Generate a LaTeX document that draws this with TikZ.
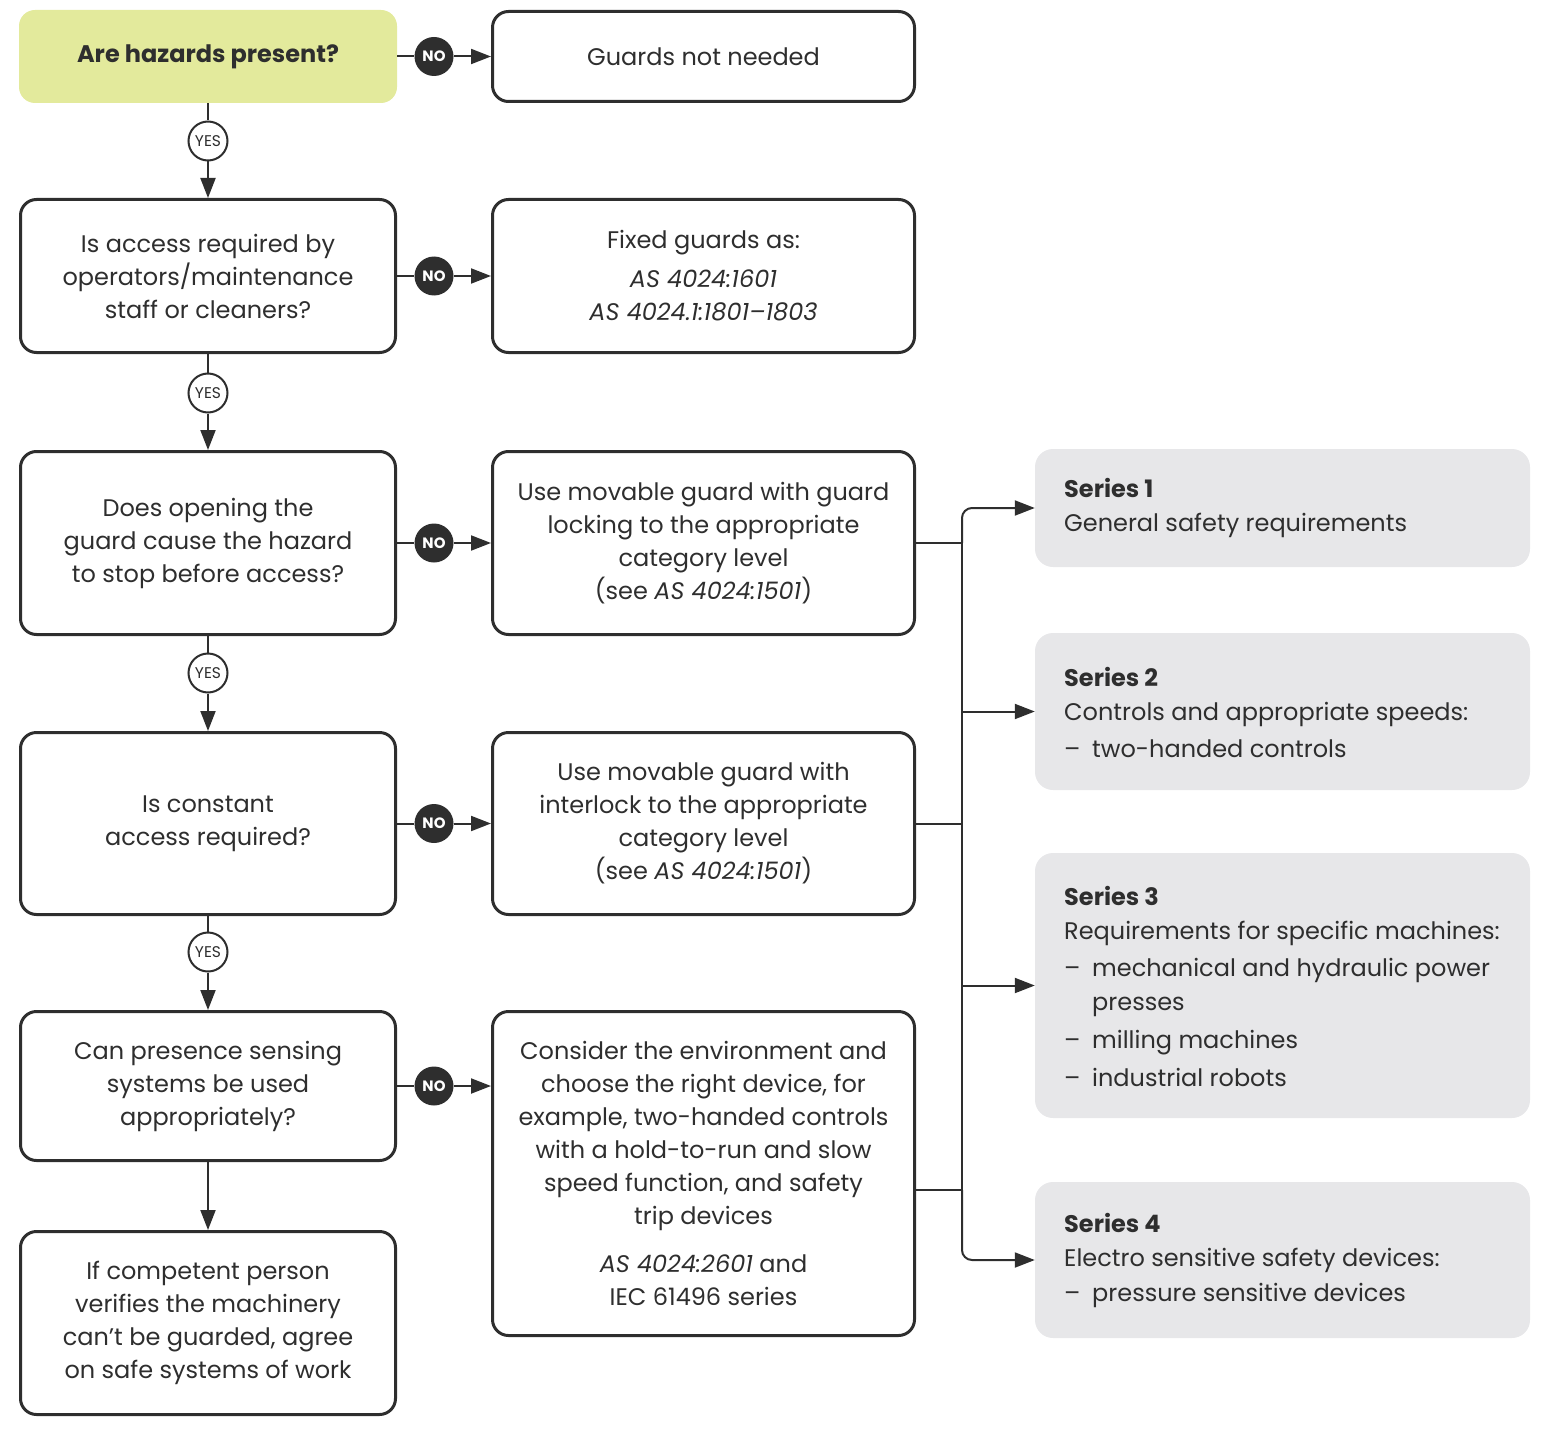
\documentclass[tikz,border=0pt]{standalone}
\usepackage{fontspec}
\setmainfont{Poppins}
\usetikzlibrary{arrows.meta,calc}
\definecolor{ink}{HTML}{2E2E2E}
\definecolor{lime}{HTML}{E3EA9C}
\definecolor{pale}{HTML}{E7E7E9}
\tikzset{
  qbox/.style={draw=ink, line width=3pt, rounded corners=16pt, minimum width=375pt, inner sep=0pt, text=ink, align=center, font=\fontsize{24}{33}\selectfont},
  mbox/.style={qbox, minimum width=422pt},
  greenbox/.style={fill=lime, rounded corners=16pt, minimum width=378pt, minimum height=93pt, inner sep=0pt, text=ink, font=\fontsize{24}{33}\selectfont},
  sbox/.style={fill=pale, rounded corners=18pt, minimum width=495pt, inner sep=0pt},
  stext/.style={align=left, inner sep=0pt, text=ink, anchor=west, font=\fontsize{24}{34}\selectfont},
  nocirc/.style={circle, fill=ink, minimum size=39pt, inner sep=0pt, text=white, font=\fontsize{15}{15}\selectfont\bfseries},
  yescirc/.style={circle, draw=ink, line width=2pt, fill=white, minimum size=39pt, inner sep=0pt, text=ink, font=\fontsize{15.5}{15.5}\selectfont},
  conn/.style={draw=ink, line width=2pt},
  arr/.style={conn, -{Triangle[length=20pt,width=15pt]}},
}
\newcommand{\itm}{\makebox[28pt][l]{–}}
\begin{document}
\begin{tikzpicture}[x=1pt,y=-1pt]
\useasboundingbox (0,0) rectangle (1549,1431);
% left column
\node[greenbox] (q1) at (208,56.5) {\bfseries Are hazards present?};
\node[qbox, minimum height=153pt] (q2) at (208,276) {Is access required by\\operators/maintenance\\staff or cleaners?};
\node[qbox, minimum height=183pt] (q3) at (208,543) {Does opening the\\guard cause the hazard\\to stop before access?};
\node[qbox, minimum height=182pt] (q4) at (208,823.5) {Is constant\\access required?};
\node[qbox, minimum height=149pt] (q5) at (208,1086) {Can presence sensing\\systems be used\\appropriately?};
\node[qbox, minimum height=183pt] (q6) at (208,1323) {If competent person\\verifies the machinery\\can’t be guarded, agree\\on safe systems of work};
% middle column
\node[mbox, minimum height=90pt] (m1) at (703.5,56.5) {Guards not needed};
\node[mbox, minimum height=153pt] (m2) at (703.5,276) {Fixed guards as:\\[6pt]\textit{AS 4024:1601}\\\textit{AS 4024.1:1801–1803}};
\node[mbox, minimum height=183pt] (m3) at (703.5,543) {Use movable guard with guard\\locking to the appropriate\\category level\\(see \textit{AS 4024:1501})};
\node[mbox, minimum height=182pt] (m4) at (703.5,823.5) {Use movable guard with\\interlock to the appropriate\\category level\\(see \textit{AS 4024:1501})};
\node[mbox, minimum height=324pt] (m5) at (703.5,1173.5) {Consider the environment and\\choose the right device, for\\example, two-handed controls\\with a hold-to-run and slow\\speed function, and safety\\trip devices\\[15pt]\textit{AS 4024:2601} and\\IEC 61496 series};
% right column
\node[sbox, minimum height=118pt] (s1) at (1282.5,508) {};
\node[sbox, minimum height=157pt] (s2) at (1282.5,711.5) {};
\node[sbox, minimum height=265pt] (s3) at (1282.5,985.5) {};
\node[sbox, minimum height=156pt] (s4) at (1282.5,1260) {};
\node[stext] (s1t) at (1064,508) {\textbf{Series 1}\\General safety requirements};
\node[stext] (s2t) at (1064,712) {\textbf{Series 2}\\Controls and appropriate speeds:\\[3pt]\itm two-handed controls};
\node[stext] (s3t) at (1064,986) {\textbf{Series 3}\\Requirements for specific machines:\\[3pt]\itm mechanical and hydraulic power\\\hspace*{28pt}presses\\[4pt]\itm milling machines\\[4pt]\itm industrial robots};
\node[stext] (s4t) at (1064,1260) {\textbf{Series 4}\\Electro sensitive safety devices:\\[1pt]\itm pressure sensitive devices};
% decision markers
\node[nocirc] (n1) at (434,56.5) {NO};
\node[nocirc] (n2) at (434,276) {NO};
\node[nocirc] (n3) at (434,543) {NO};
\node[nocirc] (n4) at (434,823.5) {NO};
\node[nocirc] (n5) at (434,1086) {NO};
\node[yescirc] (y1) at (208,141) {YES};
\node[yescirc] (y2) at (208,393) {YES};
\node[yescirc] (y3) at (208,673) {YES};
\node[yescirc] (y4) at (208,952) {YES};
% horizontal NO connectors
\foreach \i in {1,...,4}{
  \draw[conn] (q\i) -- (n\i);
  \draw[arr] (n\i) -- (m\i);
}
\draw[conn] (q5) -- (n5);
\draw[arr] (n5) -- (n5 -| m5.west);
% vertical YES connectors
\foreach \i/\j in {1/2,2/3,3/4,4/5}{
  \draw[conn] (q\i) -- (y\i);
  \draw[arr] (y\i) -- (q\j);
}
\draw[arr] (q5) -- (q6);
% bus to series boxes
\coordinate (j3) at (962,543);
\coordinate (j4) at (962,823.5);
\coordinate (j5) at (962,1190);
\draw[conn] (m3) -- (j3);
\draw[conn] (m4) -- (j4);
\draw[conn] (j5 -| m5.east) -- (j5);
\draw[conn] (j3) -- (j5);
\draw[arr, rounded corners=10pt] (j3) |- (s1.west);
\draw[arr] (s2.west -| j3) -- (s2.west);
\draw[arr] (s3.west -| j3) -- (s3.west);
\draw[arr, rounded corners=10pt] (j5) |- (s4.west);
\end{tikzpicture}
\end{document}
